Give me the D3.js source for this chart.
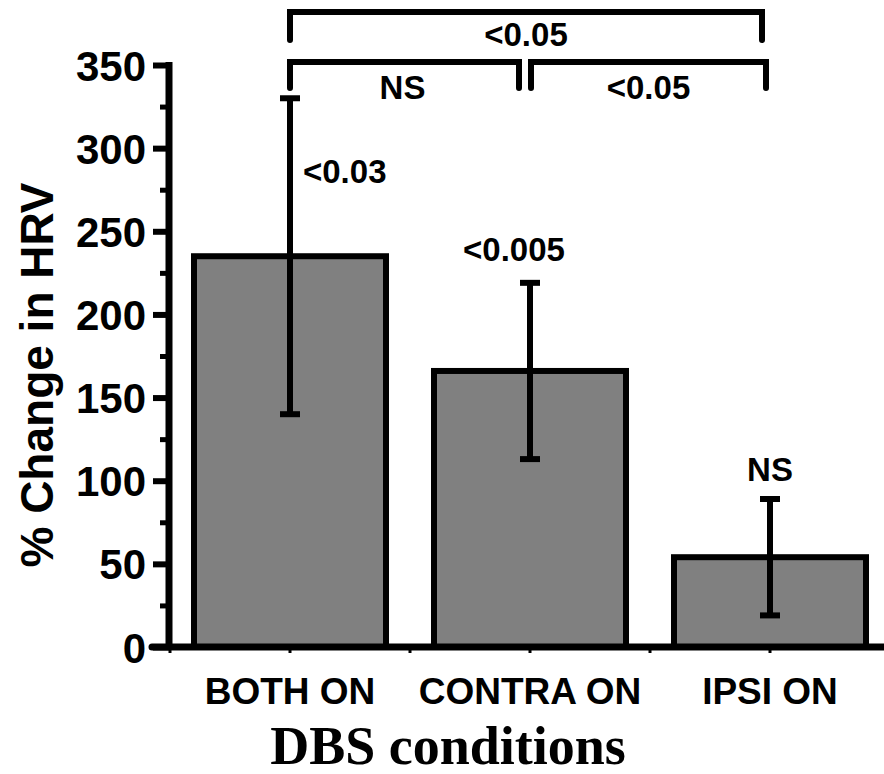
<!DOCTYPE html>
<html>
<head>
<meta charset="utf-8">
<script src="https://cdn.jsdelivr.net/npm/d3@7"></script>
<style>
  body { margin: 0; background: #fff; }
  text { font-family: "Liberation Sans", Arial, sans-serif; font-weight: bold; }
</style>
</head>
<body>
<script>
// data
var conditions = ["BOTH ON", "CONTRA ON", "IPSI ON"];
var means = [235, 166, 54];
var errs = [95, 53, 35];
var barLabels = ["<0.03", "<0.005", "NS"];
var yTicks = [0, 50, 100, 150, 200, 250, 300, 350];
// comparisons between conditions: [from, to, label, level]
var compFrom = ["BOTH ON", "BOTH ON", "CONTRA ON"];
var compTo = ["IPSI ON", "CONTRA ON", "IPSI ON"];
var compLabel = ["<0.05", "NS", "<0.05"];
var compLevel = [0, 1, 1];

var width = 884, height = 774;

var svg = d3.select("body").append("svg")
    .attr("width", width)
    .attr("height", height);

var y = d3.scaleLinear().domain([0, 350]).range([647, 65]);
var x = d3.scaleBand().domain(conditions).range([170, 890])
    .paddingInner(0.2).paddingOuter(0.1);
function cx(d) { return x(d) + x.bandwidth() / 2; }

// bars
svg.append("g").selectAll("rect")
    .data(means)
    .enter().append("rect")
    .attr("x", function(d, i) { return x(conditions[i]); })
    .attr("y", function(d) { return y(d); })
    .attr("width", x.bandwidth())
    .attr("height", function(d) { return y(0) - y(d); })
    .style("fill", "#808080")
    .style("stroke", "#000")
    .style("stroke-width", 6);

// error bars
var eb = svg.append("g").style("stroke", "#000").style("stroke-width", 6);
means.forEach(function(m, i) {
    var c = cx(conditions[i]);
    eb.append("line").attr("x1", c).attr("x2", c)
        .attr("y1", y(m + errs[i])).attr("y2", y(m - errs[i]));
    eb.append("line").attr("x1", c - 10).attr("x2", c + 10)
        .attr("y1", y(m + errs[i])).attr("y2", y(m + errs[i]));
    eb.append("line").attr("x1", c - 10).attr("x2", c + 10)
        .attr("y1", y(m - errs[i])).attr("y2", y(m - errs[i]));
});

// y axis
var yAxis = d3.axisLeft(y).tickValues(yTicks).tickSize(16).tickPadding(6);
var ya = svg.append("g").attr("transform", "translate(169,0)").call(yAxis);
ya.select(".domain").remove();
ya.selectAll(".tick line").style("stroke-width", 6);
ya.selectAll(".tick text").style("font-size", "42px").attr("dy", "0.36em").attr("x", -23);
var yMinor = d3.axisLeft(y).tickValues(yTicks.slice(0, -1).map(function(d) { return d + 25; }))
    .tickSize(9).tickFormat("");
var ym = svg.append("g").attr("transform", "translate(169,0)").call(yMinor);
ym.select(".domain").remove();
ym.selectAll(".tick line").style("stroke-width", 5);
svg.append("line").attr("x1", 169).attr("x2", 169)
    .attr("y1", y(350) - 3).attr("y2", y(0) + 3)
    .style("stroke", "#000").style("stroke-width", 7);

// x axis
svg.append("line").attr("x1", 152).attr("x2", 884)
    .attr("y1", y(0)).attr("y2", y(0))
    .style("stroke", "#000").style("stroke-width", 7)
    .style("stroke-linecap", "round");
var xTickPos = [];
conditions.forEach(function(c) { xTickPos.push(x(c) - x.step() * x.paddingInner() / 2); xTickPos.push(cx(c)); });
xTickPos.push(x(conditions[2]) + x.bandwidth() + x.step() * x.paddingInner() / 2);
svg.append("g").selectAll("line").data(xTickPos).enter().append("line")
    .attr("x1", function(d) { return d; }).attr("x2", function(d) { return d; })
    .attr("y1", y(0)).attr("y2", y(0) + 6)
    .style("stroke", "#000").style("stroke-width", 3);

svg.append("g").selectAll("text").data(conditions).enter().append("text")
    .attr("x", function(d) { return cx(d); })
    .attr("y", 704)
    .attr("text-anchor", "middle")
    .style("font-size", "37px")
    .text(function(d) { return d; });

// value labels
svg.append("text").attr("x", cx(conditions[0]) + 13).attr("y", y(300) + 35)
    .style("font-size", "33px").text(barLabels[0]);
svg.append("text").attr("x", cx(conditions[1]) - 16).attr("y", y(232))
    .attr("text-anchor", "middle").style("font-size", "33px").text(barLabels[1]);
svg.append("text").attr("x", cx(conditions[2])).attr("y", y(100))
    .attr("text-anchor", "middle").style("font-size", "33px").text(barLabels[2]);

// significance brackets
var levelTop = [12, 62], levelBot = [40, 88];
compLabel.forEach(function(lab, i) {
    var x1 = cx(compFrom[i]), x2 = cx(compTo[i]);
    if (compLevel[i] == 0) { x2 -= 8; }
    else if (compTo[i] == "CONTRA ON") { x2 -= 11; }
    else { x1 += 1; x2 -= 4; }
    var t = levelTop[compLevel[i]], b = levelBot[compLevel[i]];
    svg.append("path")
        .attr("d", "M" + x1 + "," + b + "V" + t + "H" + x2 + "V" + b)
        .style("fill", "none").style("stroke", "#000").style("stroke-width", 6)
        .style("stroke-linecap", "round");
    var ty = compLevel[i] == 0 ? 46 : 99;
    svg.append("text").attr("x", (x1 + x2) / 2 + (compLevel[i] == 1 && i == 1 ? -2 : 0)).attr("y", ty)
        .attr("text-anchor", "middle").style("font-size", "33px").text(lab);
});

// axis titles
svg.append("text")
    .attr("transform", "translate(53,375) rotate(-90)")
    .attr("text-anchor", "middle")
    .style("font-size", "46px")
    .text("% Change in HRV");
svg.append("text")
    .attr("x", 448).attr("y", 764)
    .attr("text-anchor", "middle")
    .style("font-family", "'Liberation Serif', 'Times New Roman', serif")
    .style("font-size", "54px")
    .text("DBS conditions");
</script>
</body>
</html>
